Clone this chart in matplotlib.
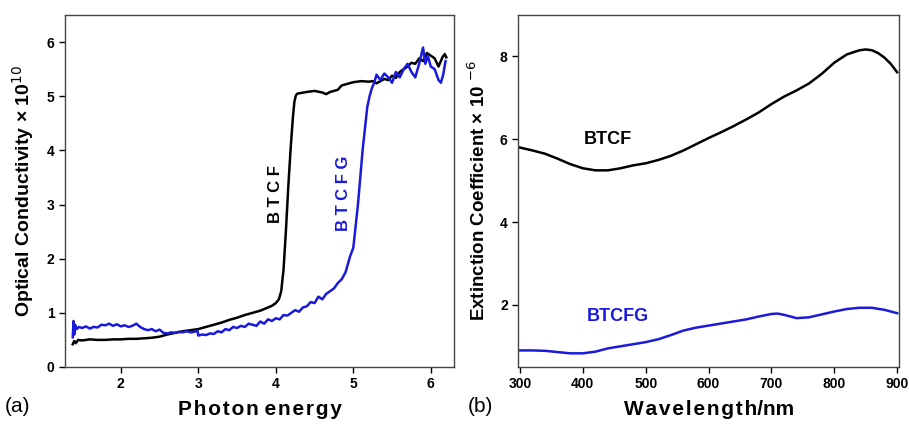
import matplotlib.pyplot as plt

plt.rcParams['font.family'] = ['Liberation Sans', 'DejaVu Sans']

# (a) optical conductivity vs photon energy
energy_btcf = [1.38, 1.40, 1.42, 1.45, 1.50, 1.60, 1.70, 1.80, 1.90, 2.00, 2.10, 2.20, 2.30, 2.40,
               2.50, 2.60, 2.70, 2.80, 2.90, 3.00, 3.10, 3.20, 3.30, 3.40, 3.50, 3.60, 3.70,
               3.80, 3.90, 3.95, 4.00, 4.04, 4.07, 4.10, 4.13, 4.16, 4.19, 4.22, 4.24, 4.26,
               4.28, 4.32, 4.40, 4.50, 4.60, 4.65, 4.70, 4.75, 4.80, 4.85, 4.90, 5.00, 5.10,
               5.20, 5.25, 5.30, 5.35, 5.40, 5.45, 5.50, 5.55, 5.60, 5.65, 5.70, 5.75, 5.80,
               5.85, 5.90, 5.95, 6.00, 6.05, 6.10, 6.15, 6.18, 6.20]
cond_btcf = [0.42, 0.48, 0.44, 0.50, 0.49, 0.51, 0.50, 0.50, 0.51, 0.51, 0.52, 0.52, 0.53, 0.54,
             0.56, 0.60, 0.63, 0.66, 0.68, 0.70, 0.74, 0.78, 0.82, 0.87, 0.91, 0.96, 1.00,
             1.04, 1.10, 1.13, 1.18, 1.25, 1.40, 1.80, 2.50, 3.30, 4.00, 4.60, 4.90, 5.02,
             5.05, 5.06, 5.08, 5.10, 5.07, 5.04, 5.08, 5.10, 5.12, 5.20, 5.22, 5.26, 5.28,
             5.27, 5.28, 5.24, 5.28, 5.32, 5.30, 5.38, 5.34, 5.45, 5.50, 5.55, 5.62, 5.60,
             5.70, 5.65, 5.80, 5.75, 5.70, 5.55, 5.72, 5.78, 5.72]

energy_btcfg = [1.38, 1.39, 1.40, 1.41, 1.43, 1.46, 1.50, 1.55, 1.60, 1.65, 1.70, 1.75, 1.80, 1.85,
                1.90, 1.95, 2.00, 2.05, 2.10, 2.15, 2.20, 2.25, 2.30, 2.35, 2.40, 2.45, 2.50,
                2.55, 2.60, 2.65, 2.70, 2.75, 2.80, 2.85, 2.90, 2.95, 2.99, 3.00, 3.05, 3.10,
                3.15, 3.20, 3.25, 3.30, 3.35, 3.40, 3.45, 3.50, 3.55, 3.60, 3.65, 3.70, 3.75,
                3.80, 3.85, 3.90, 3.95, 4.00, 4.05, 4.10, 4.15, 4.20, 4.25, 4.30, 4.35, 4.40,
                4.45, 4.50, 4.55, 4.60, 4.65, 4.70, 4.75, 4.80, 4.85, 4.90, 4.93, 4.96, 5.00,
                5.03, 5.06, 5.09, 5.12, 5.15, 5.18, 5.21, 5.24, 5.27, 5.30, 5.35, 5.40, 5.45,
                5.50, 5.55, 5.60, 5.65, 5.70, 5.75, 5.80, 5.85, 5.90, 5.93, 5.96, 6.00, 6.05,
                6.10, 6.13, 6.16, 6.19]
cond_btcfg = [0.55, 0.85, 0.60, 0.78, 0.70, 0.74, 0.72, 0.75, 0.71, 0.74, 0.73, 0.78, 0.77, 0.80,
              0.76, 0.79, 0.75, 0.77, 0.74, 0.76, 0.80, 0.74, 0.70, 0.68, 0.70, 0.66, 0.69,
              0.63, 0.62, 0.64, 0.63, 0.65, 0.64, 0.66, 0.64, 0.65, 0.67, 0.58, 0.60, 0.59,
              0.62, 0.61, 0.66, 0.64, 0.70, 0.68, 0.74, 0.72, 0.76, 0.74, 0.80, 0.78, 0.76,
              0.84, 0.80, 0.88, 0.85, 0.90, 0.88, 0.96, 0.95, 1.00, 1.05, 1.02, 1.10, 1.12,
              1.20, 1.18, 1.30, 1.25, 1.35, 1.40, 1.45, 1.55, 1.62, 1.75, 1.90, 2.05, 2.20,
              2.60, 3.00, 3.50, 4.00, 4.40, 4.80, 5.00, 5.15, 5.25, 5.40, 5.30, 5.42, 5.35,
              5.25, 5.45, 5.35, 5.50, 5.60, 5.45, 5.35, 5.60, 5.90, 5.60, 5.75, 5.55, 5.50,
              5.30, 5.25, 5.40, 5.65]

# (b) extinction coefficient vs wavelength
wl_btcf = [300, 320, 340, 360, 380, 400, 420, 440, 460, 480, 500, 520, 540, 560, 580, 600,
           620, 640, 660, 680, 700, 720, 740, 760, 780, 800, 820, 840, 850, 860, 870, 880, 890, 900]
ext_btcf = [5.80, 5.73, 5.65, 5.53, 5.40, 5.30, 5.25, 5.25, 5.30, 5.37, 5.42, 5.50, 5.60, 5.73,
            5.88, 6.03, 6.17, 6.32, 6.48, 6.65, 6.85, 7.03, 7.18, 7.35, 7.58, 7.85, 8.05, 8.15,
            8.17, 8.15, 8.08, 7.97, 7.82, 7.62]

wl_btcfg = [300, 320, 340, 360, 380, 400, 420, 440, 460, 480, 500, 520, 540, 560, 580, 600,
            620, 640, 660, 680, 700, 710, 720, 740, 760, 780, 800, 820, 840, 860, 880, 900]
ext_btcfg = [0.90, 0.90, 0.89, 0.86, 0.83, 0.83, 0.87, 0.95, 1.00, 1.05, 1.10, 1.17, 1.27, 1.38,
             1.45, 1.50, 1.55, 1.60, 1.65, 1.72, 1.78, 1.79, 1.76, 1.68, 1.70, 1.77, 1.84, 1.90,
             1.93, 1.93, 1.88, 1.80]

a_xticks = [2, 3, 4, 5, 6]
a_yticks = [0, 1, 2, 3, 4, 5, 6]
b_xticks = [300, 400, 500, 600, 700, 800, 900]
b_yticks = [2, 4, 6, 8]


def spaced(s):
    # loose letter spacing with hair spaces
    return '\u200a'.join(s)


fig = plt.figure(figsize=(9.09, 4.25), dpi=100)
ax1 = fig.add_axes([0.0715, 0.1365, 0.428, 0.828])
ax2 = fig.add_axes([0.570, 0.1365, 0.419, 0.828])

blue = '#1a1adc'

ax1.plot(energy_btcf, cond_btcf, color='black', lw=1.8)
ax1.plot(energy_btcfg, cond_btcfg, color=blue, lw=1.8)
ax1.set_xlim(1.28, 6.3)
ax1.set_ylim(0, 6.5)
ax1.set_xticks(a_xticks)
ax1.set_yticks(a_yticks)
ax1.set_ylabel('Optical Conductivity × 10$^{10}$', fontsize=14, fontweight='bold', labelpad=8)
ax1.set_xlabel(spaced('Photon') + ' ' + spaced('energy'), fontsize=15, fontweight='bold',
               labelpad=6)
ax1.text(4.0, 3.2, 'B T C F', rotation=90, ha='center', va='center',
         fontsize=12, fontweight='bold', color='black')
ax1.text(4.87, 3.2, 'B T C F G', rotation=90, ha='center', va='center',
         fontsize=12, fontweight='bold', color=blue)

ax2.plot(wl_btcf, ext_btcf, color='black', lw=1.8)
ax2.plot(wl_btcfg, ext_btcfg, color=blue, lw=1.8)
ax2.set_xlim(297, 903)
ax2.set_ylim(0.5, 9.0)
ax2.set_xticks(b_xticks)
ax2.set_yticks(b_yticks)
ax2.set_ylabel('Extinction Coefficient × 10 $^{-6}$', fontsize=13.5, fontweight='bold', labelpad=8)
ax2.set_xlabel(spaced('Wavelength') + '/nm', fontsize=15, fontweight='bold', labelpad=6)
ax2.text(440, 6.0, 'BTCF', ha='center', va='center', fontsize=13, fontweight='bold', color='black')
ax2.text(456, 1.73, 'BTCFG', ha='center', va='center', fontsize=13, fontweight='bold', color=blue)

for ax in (ax1, ax2):
    ax.tick_params(direction='out', length=4, width=1, labelsize=10, top=False, right=False)
    for lab in ax.get_xticklabels() + ax.get_yticklabels():
        lab.set_fontweight('bold')
    for s in ax.spines.values():
        s.set_color('#444444')
        s.set_linewidth(1)

fig.text(0.005, 0.03, '(a)', fontsize=15)
fig.text(0.515, 0.03, '(b)', fontsize=15)

fig.savefig('out.png', dpi=100)
